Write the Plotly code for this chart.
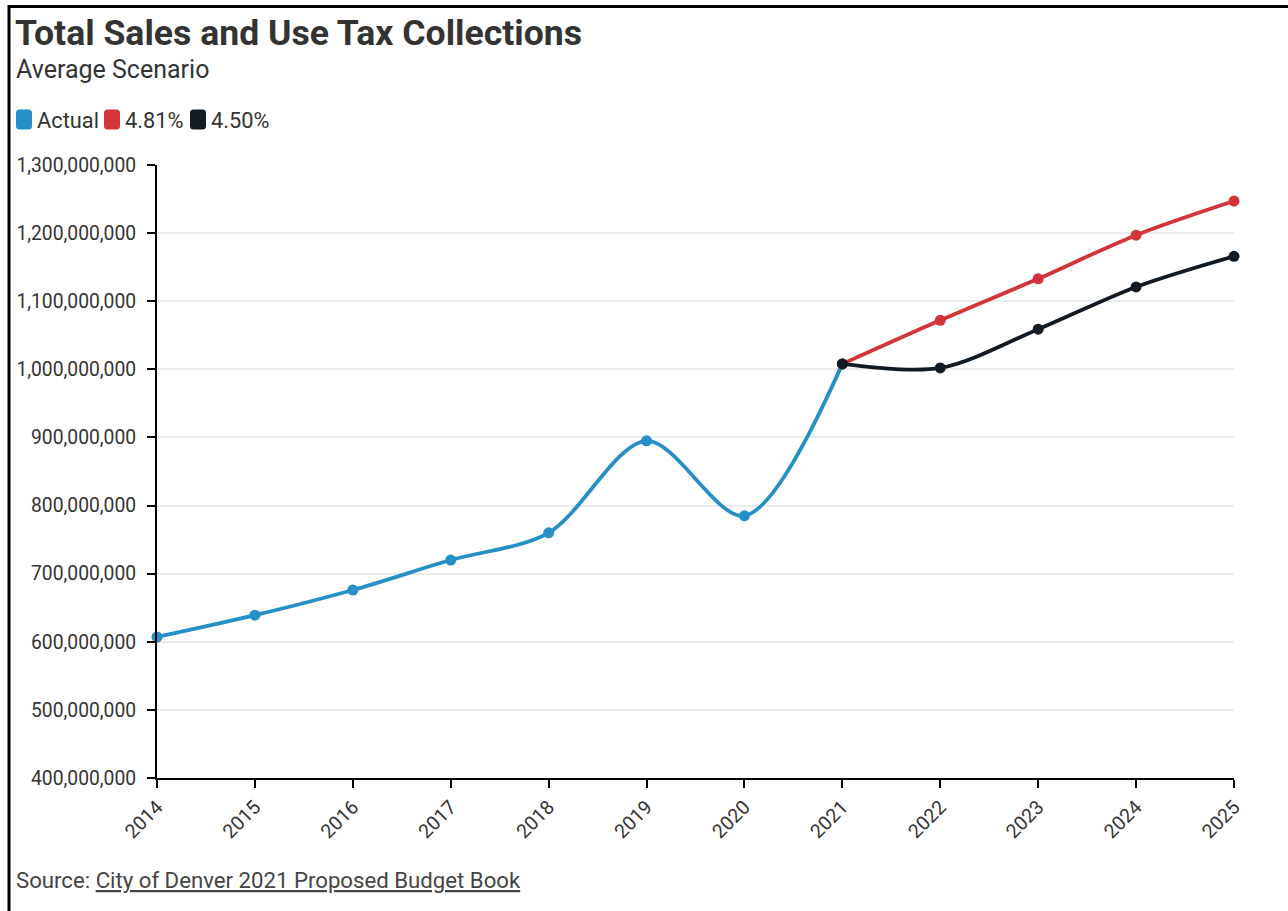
import plotly.graph_objects as go

years_actual = [2014, 2015, 2016, 2017, 2018, 2019, 2020, 2021]
actual = [607e6, 639e6, 676e6, 720e6, 760e6, 895e6, 785e6, 1008e6]
years_fc = [2021, 2022, 2023, 2024, 2025]
fc_481 = [1008e6, 1072e6, 1133e6, 1197e6, 1247e6]
fc_450 = [1008e6, 1002e6, 1059e6, 1121e6, 1166e6]
x_ticks = list(range(2014, 2026))
y_ticks = [400e6 + i * 100e6 for i in range(10)]

BLUE = "#2690c6"
RED = "#d5333a"
BLACK = "#121a23"
TXT = "#333333"
FONT = "Roboto"

W, H = 1288, 911
ML, MR, MT, MB = 157, 54, 165, 133
PW, PH = W - ML - MR, H - MT - MB

series = [("Actual", years_actual, actual, BLUE),
          ("4.81%", years_fc, fc_481, RED),
          ("4.50%", years_fc, fc_450, BLACK)]

fig = go.Figure()
for name, xs, ys, col in series:
    fig.add_trace(go.Scatter(
        x=xs, y=ys, mode="lines+markers", name=name, showlegend=False,
        line=dict(color=col, width=3.8, shape="spline", smoothing=0.9),
        marker=dict(color=col, size=11), cliponaxis=False,
        hovertemplate="%{x}: %{y:,}<extra>" + name + "</extra>"))


def px_x(p):
    return (p - ML) / PW


def px_y(p):
    return 1 - (p - MT) / PH


def rounded_rect(x0, y0, x1, y1, r):
    pts = []
    pts.append(f"M {px_x(x0 + r)},{px_y(y0)}")
    pts.append(f"L {px_x(x1 - r)},{px_y(y0)}")
    pts.append(f"Q {px_x(x1)},{px_y(y0)} {px_x(x1)},{px_y(y0 + r)}")
    pts.append(f"L {px_x(x1)},{px_y(y1 - r)}")
    pts.append(f"Q {px_x(x1)},{px_y(y1)} {px_x(x1 - r)},{px_y(y1)}")
    pts.append(f"L {px_x(x0 + r)},{px_y(y1)}")
    pts.append(f"Q {px_x(x0)},{px_y(y1)} {px_x(x0)},{px_y(y1 - r)}")
    pts.append(f"L {px_x(x0)},{px_y(y0 + r)}")
    pts.append(f"Q {px_x(x0)},{px_y(y0)} {px_x(x0 + r)},{px_y(y0)}")
    return " ".join(pts) + " Z"


fig.update_layout(
    width=W, height=H,
    margin=dict(l=ML, r=MR, t=MT, b=MB, autoexpand=False),
    paper_bgcolor="white", plot_bgcolor="white",
    font=dict(family=FONT, color=TXT, size=19),
    title=dict(text="<b>Total Sales and Use Tax Collections</b>",
               x=15 / W, xanchor="left", xref="container",
               y=1 - 33 / H, yanchor="middle", yref="container",
               font=dict(size=35.6, color=TXT, family=FONT)),
    showlegend=False,
    xaxis=dict(range=[2014, 2025], tickmode="array", tickvals=x_ticks,
               ticktext=[str(t) for t in x_ticks], tickangle=-45,
               showgrid=False, zeroline=False, automargin=False,
               showline=True, linecolor="black", linewidth=2,
               ticks="outside", ticklen=8, tickwidth=2, tickcolor="black",
               tickfont=dict(size=19.5, color=TXT)),
    yaxis=dict(range=[400e6, 1300e6], tickmode="array", tickvals=y_ticks,
               tickformat=",d", showgrid=True, gridcolor="#ececec",
               gridwidth=2, zeroline=False, automargin=False,
               showline=True, linecolor="black", linewidth=2,
               ticks="outside", ticklen=8, tickwidth=2, tickcolor="black",
               ticklabelstandoff=7,
               tickfont=dict(size=19.3, color=TXT)),
    hovermode="closest",
)

fig.add_annotation(text="Average Scenario", xref="paper", yref="paper",
                   x=px_x(14), y=px_y(69), xanchor="left", yanchor="middle",
                   showarrow=False, font=dict(size=25, color=TXT, family=FONT))
fig.add_annotation(text="Source: <u>City of Denver 2021 Proposed Budget Book</u>",
                   xref="paper", yref="paper",
                   x=px_x(14), y=px_y(880), xanchor="left", yanchor="middle",
                   showarrow=False, font=dict(size=22.2, color="#444444", family=FONT))

# custom legend (swatch + label)
legend_x = [16, 104, 190]
for (name, _, _, col), lx in zip(series, legend_x):
    fig.add_shape(type="path", xref="paper", yref="paper",
                  path=rounded_rect(lx, 109.5, lx + 16, 129.5, 3.5),
                  fillcolor=col, line=dict(width=0))
    fig.add_annotation(text=name, xref="paper", yref="paper",
                       x=px_x(lx + 19), y=px_y(120), xanchor="left",
                       yanchor="middle", showarrow=False,
                       font=dict(size=21.8, color=TXT, family=FONT))

# frame border (left and top)
fig.add_shape(type="line", xref="paper", yref="paper",
              x0=px_x(9), x1=px_x(9), y0=px_y(5), y1=px_y(915),
              line=dict(color="black", width=3))
fig.add_shape(type="line", xref="paper", yref="paper",
              x0=px_x(8), x1=px_x(1300), y0=px_y(6.5), y1=px_y(6.5),
              line=dict(color="black", width=3))

fig.write_html("out.html", config={"displayModeBar": False},
               post_script="document.body.style.margin='0';document.body.style.overflow='hidden';")
